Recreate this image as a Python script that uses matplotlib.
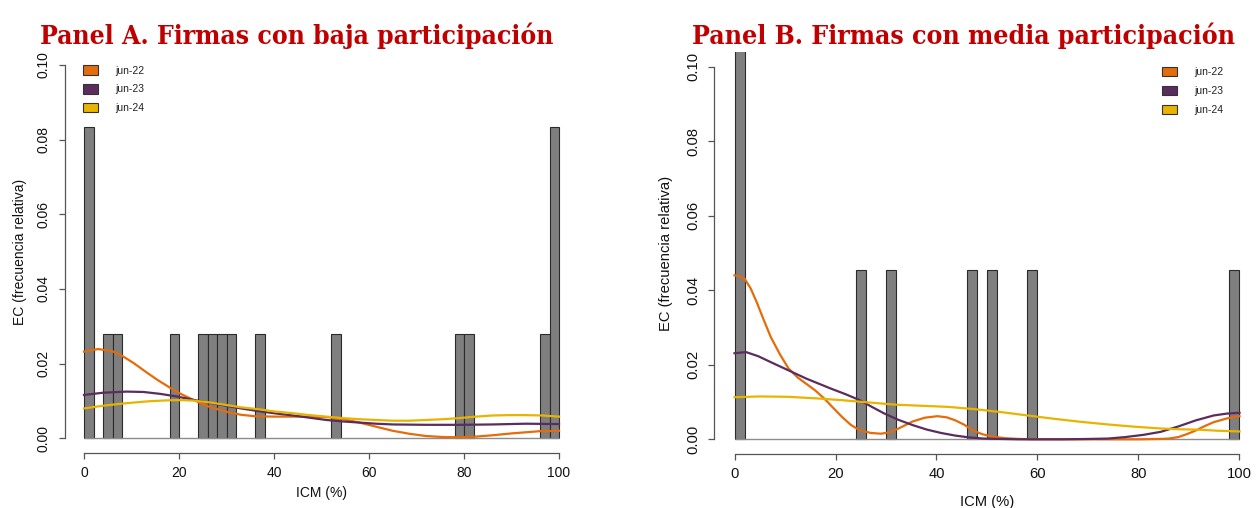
import matplotlib
matplotlib.use("Agg")
import matplotlib.pyplot as plt
from matplotlib.patches import Patch

plt.rcParams['font.family'] = ['Liberation Sans', 'DejaVu Sans']

# histogram bins (left edge, width 2) and relative frequencies
bins_a = [0, 4, 6, 18, 24, 26, 28, 30, 36, 52, 78, 80, 96, 98]
freq_a = [0.0833, 0.0278, 0.0278, 0.0278, 0.0278, 0.0278, 0.0278, 0.0278,
          0.0278, 0.0278, 0.0278, 0.0278, 0.0278, 0.0833]
bins_b = [0, 24, 30, 46, 50, 58, 98]
freq_b = [0.227, 0.0455, 0.0455, 0.0455, 0.0455, 0.0455, 0.0455]

# density curves
a22_x = [0, 3, 6, 8, 10.5, 13, 15.5, 18.3, 20.5, 23, 26, 30, 33, 36, 40, 44, 48,
         52, 55, 58, 61.5, 65, 68.5, 72, 76, 79, 82, 86, 90, 96, 100]
a22_y = [0.0232, 0.0239, 0.0233, 0.0221, 0.0201, 0.0178, 0.0156, 0.0134, 0.0118,
         0.0103, 0.0086, 0.0071, 0.0063, 0.0059, 0.0058, 0.0058, 0.0058,
         0.0056, 0.0050, 0.0042, 0.0031, 0.0020, 0.0012, 0.0006, 0.0003, 0.0003,
         0.0004, 0.0008, 0.0013, 0.0019, 0.0020]
a23_x = [0, 4, 9, 12.5, 16, 19.5, 23, 26.5, 30, 33, 36.6, 40, 44, 47.5, 51, 54.5,
         58, 61.5, 65, 72, 79, 86, 93, 100]
a23_y = [0.0116, 0.0122, 0.0125, 0.0124, 0.0119, 0.0112, 0.0103, 0.0095, 0.0087,
         0.0080, 0.0073, 0.0067, 0.0061, 0.0055, 0.0049, 0.0045, 0.0042, 0.0039,
         0.0037, 0.0036, 0.0036, 0.0037, 0.0039, 0.0038]
a24_x = [0, 4.5, 9, 13.5, 18.3, 21, 23, 26.5, 30, 33, 36.6, 40, 44, 47.5, 51,
         54.5, 58, 61.5, 65, 68.5, 72, 75.5, 79, 82.5, 86, 89.5, 93, 96.5, 100]
a24_y = [0.0080, 0.0088, 0.0094, 0.0099, 0.0102, 0.0102, 0.0101, 0.0096, 0.0089,
         0.0083, 0.0078, 0.0072, 0.0067, 0.0062, 0.0058, 0.0054, 0.0051, 0.0049,
         0.0047, 0.0047, 0.0049, 0.0051, 0.0054, 0.0058, 0.0061, 0.0062, 0.0062,
         0.0061, 0.0058]

b22_x = [0, 1, 2, 3.2, 4.4, 5.8, 7.2, 9, 10.7, 12.5, 14.2, 16, 17.8, 19.5, 21.3,
         23, 24.8, 27, 29, 30.8, 32.5, 35.3, 37.7, 40.2, 42, 43.7, 45.5, 47.2,
         49, 50.7, 53.5, 56.3, 60, 70, 80, 84.4, 86, 87.9, 89.6, 91.4, 93.2,
         94.9, 97.5, 100]
b22_y = [0.0440, 0.0438, 0.0431, 0.0405, 0.0368, 0.0320, 0.0274, 0.0228, 0.0190,
         0.0166, 0.0149, 0.0131, 0.0109, 0.0085, 0.0060, 0.0039, 0.0024, 0.0017,
         0.0015, 0.0019, 0.0029, 0.0048, 0.0058, 0.0062, 0.0059, 0.0051, 0.0039,
         0.0024, 0.0014, 0.0008, 0.0003, 0.0001, 0.0, 0.0, 0.0, 0.0001, 0.0002,
         0.0006, 0.0014, 0.0024, 0.0036, 0.0046, 0.0056, 0.0062]
b23_x = [0, 2.3, 4.7, 7.2, 10.7, 14.2, 19.1, 22, 24.8, 27.2, 29.7, 32.5, 35.3,
         38.1, 40.9, 43.7, 46.5, 49.3, 52.1, 56, 60, 65, 70.4, 74, 77.4, 81,
         84.4, 88, 91.4, 94.9, 97.5, 100]
b23_y = [0.0231, 0.0234, 0.0223, 0.0207, 0.0185, 0.0163, 0.0136, 0.0121, 0.0105,
         0.0087, 0.0069, 0.0052, 0.0038, 0.0026, 0.0017, 0.0010, 0.0005, 0.0002,
         0.0001, 0.0, 0.0, 0.0, 0.0001, 0.0002, 0.0006, 0.0012, 0.0020, 0.0035,
         0.0051, 0.0064, 0.0069, 0.0071]
b24_x = [0, 5, 10.7, 16, 21.3, 26.5, 31.8, 37, 42.3, 47.5, 52.8, 58, 63.3, 68.5,
         73.8, 79, 84.4, 88, 91.4, 95.7, 100]
b24_y = [0.0113, 0.0115, 0.0114, 0.0110, 0.0105, 0.0099, 0.0093, 0.0090, 0.0087,
         0.0081, 0.0073, 0.0064, 0.0055, 0.0047, 0.0040, 0.0034, 0.0029, 0.0027,
         0.0026, 0.0023, 0.0021]

labels = ['jun-22', 'jun-23', 'jun-24']
colors = ['#E46C0A', '#5B2C5E', '#E8B400']
xticks = [0, 20, 40, 60, 80, 100]
yticks = [0.0, 0.02, 0.04, 0.06, 0.08, 0.10]
ytick_labels = ['0.00', '0.02', '0.04', '0.06', '0.08', '0.10']

W, H = 1257, 508
fig = plt.figure(figsize=(W / 100, H / 100), dpi=100)
axA = fig.add_axes([65 / W, (H - 453.2) / H, 513 / W, 403.2 / H])
axB = fig.add_axes([714.3 / W, (H - 454.2) / H, 545.4 / W, 402.4 / H])


def draw_panel(ax, bins, freq, curves, fs):
    ax.bar(bins, freq, width=2, align='edge', color='#7F7F7F',
           edgecolor='#2b2b2b', linewidth=0.8, zorder=2)
    ax.hlines(0, 0, 100, color='#8c8c8c', lw=1, zorder=2.5)
    for (cx, cy), c in zip(curves, colors):
        ax.plot(cx, cy, color=c, lw=1.6, zorder=3, solid_joinstyle='round')
    ax.set_xlim(-4, 104)
    ax.set_ylim(-0.004, 0.104)
    for s in ['top', 'right']:
        ax.spines[s].set_visible(False)
    ax.spines['left'].set_bounds(0, 0.1)
    ax.spines['bottom'].set_bounds(0, 100)
    for s in ['left', 'bottom']:
        ax.spines[s].set_color('#555555')
        ax.spines[s].set_linewidth(0.9)
    ax.set_xticks(xticks)
    ax.set_xticklabels([str(t) for t in xticks])
    ax.set_yticks(yticks)
    ax.set_yticklabels(ytick_labels, rotation=90, va='center')
    ax.tick_params(axis='both', length=4.3, width=0.9, color='#555555',
                   labelsize=fs, labelcolor='#111111')
    ax.tick_params(axis='x', pad=5)
    ax.tick_params(axis='y', pad=6)
    ax.patch.set_visible(False)


draw_panel(axA, bins_a, freq_a, [(a22_x, a22_y), (a23_x, a23_y), (a24_x, a24_y)], 10)
draw_panel(axB, bins_b, freq_b, [(b22_x, b22_y), (b23_x, b23_y), (b24_x, b24_y)], 10.6)

# axis labels
fig.text((65 + 513 / 2) / W, 1 - 493 / H, 'ICM (%)', ha='center', va='center',
         fontsize=10, color='#111111')
fig.text(20 / W, 1 - 251.5 / H, 'EC (frecuencia relativa)', rotation=90,
         ha='center', va='center', fontsize=10, color='#111111')
fig.text(987.5 / W, 1 - 502 / H, 'ICM (%)', ha='center', va='center',
         fontsize=10.6, color='#111111')
fig.text(666 / W, 1 - 253 / H, 'EC (frecuencia relativa)', rotation=90,
         ha='center', va='center', fontsize=10.6, color='#111111')

# legends
handles = [Patch(facecolor=c, edgecolor='#333333', linewidth=0.8, label=l)
           for c, l in zip(colors, labels)]
leg_kw = dict(frameon=False, fontsize=7.5, handlelength=1.45, handleheight=1.0,
              labelspacing=0.82, handletextpad=1.66, borderpad=0, borderaxespad=0,
              loc='upper left', bbox_transform=fig.transFigure)
legA = axA.legend(handles=handles, bbox_to_anchor=(82.7 / W, 1 - 65.5 / H), **leg_kw)
legB = axB.legend(handles=handles, bbox_to_anchor=(1162 / W, 1 - 67 / H), **leg_kw)
for leg in (legA, legB):
    for t in leg.get_texts():
        t.set_color('#222222')

# panel titles
title_kw = dict(ha='left', va='baseline', fontfamily='DejaVu Serif',
                fontstretch='condensed', fontweight='bold', color='#C00000',
                fontsize=22)
tA = fig.text(40 / W, 1 - 44 / H, 'Panel A. Firmas con baja participación', **title_kw)
tB = fig.text(692 / W, 1 - 44 / H, 'Panel B. Firmas con media participación', **title_kw)
fig.canvas.draw()
r = fig.canvas.get_renderer()
for t, target in ((tA, 513), (tB, 540)):
    w = t.get_window_extent(r).width
    t.set_fontsize(22 * target / w)

fig.savefig('out.png', dpi=100)
